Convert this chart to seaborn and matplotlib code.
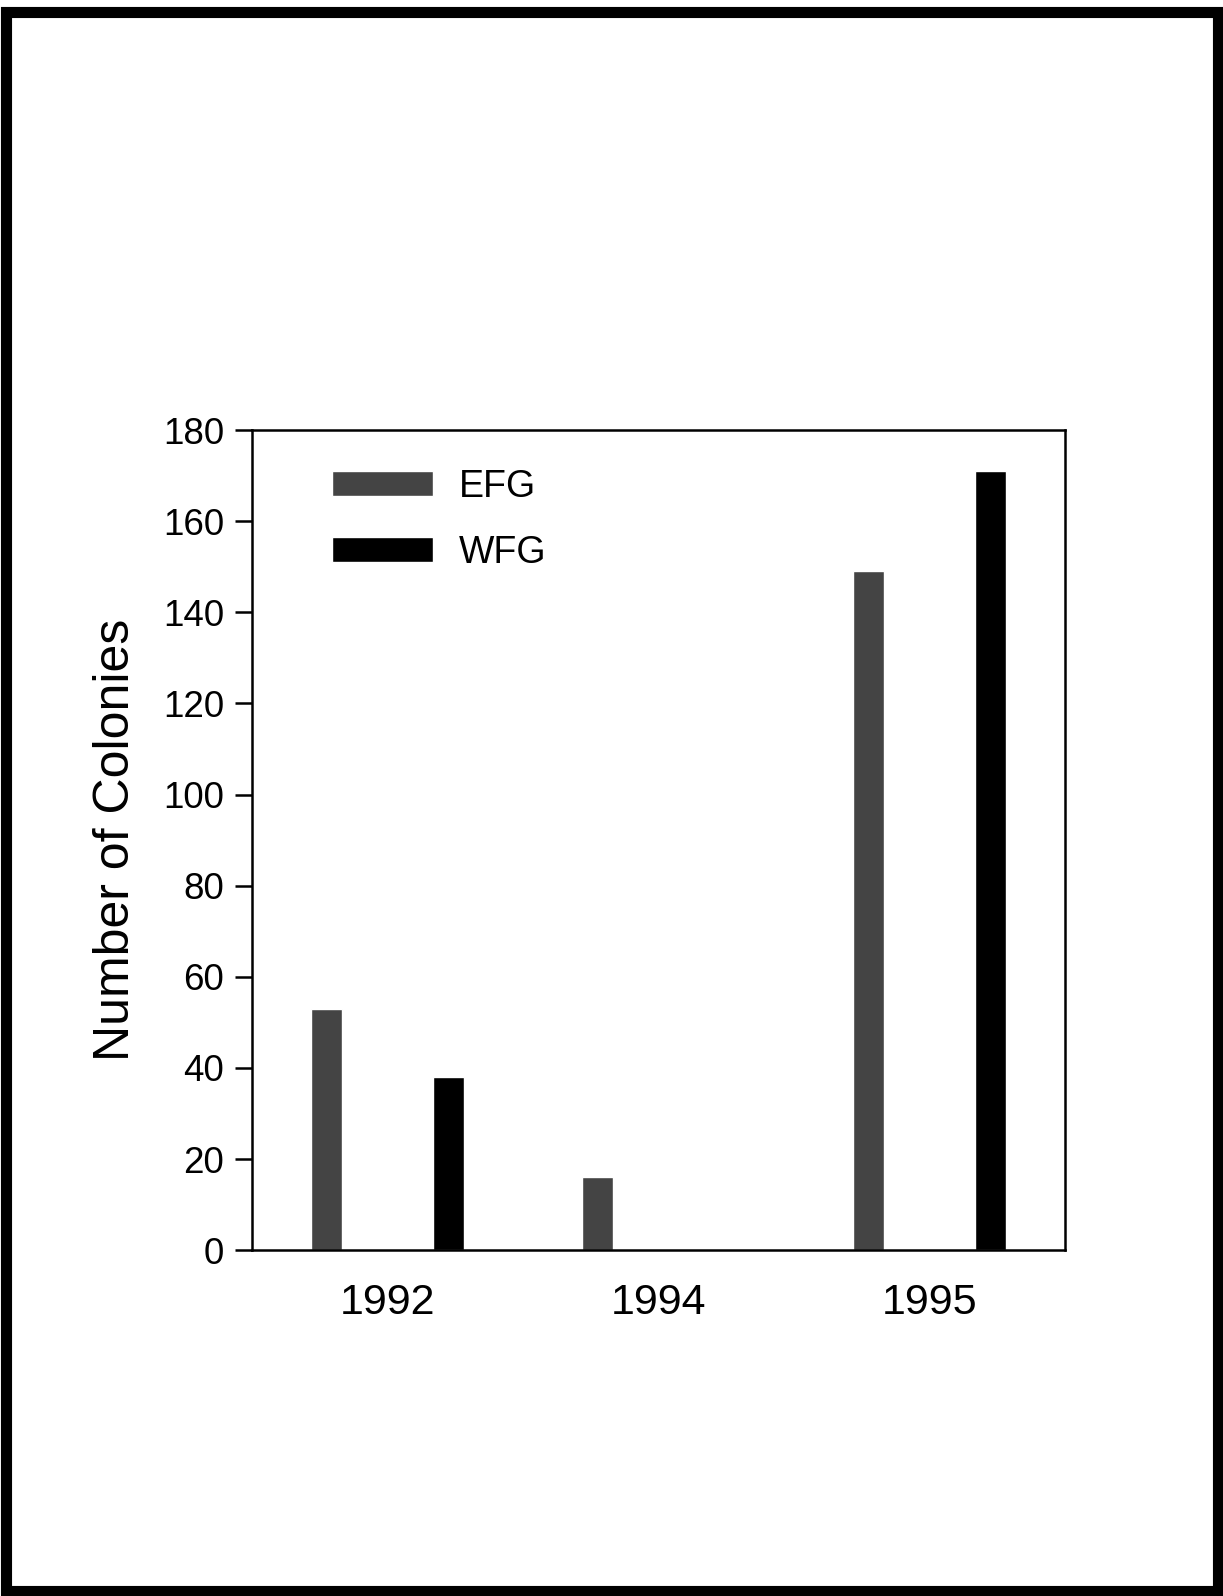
import pandas as pd
import numpy as np
import matplotlib.pyplot as plt
import matplotlib.patches as mpatches
import seaborn as sns

# values
years = ["1992", "1994", "1995"]
efg = [53, 16, 149]
wfg = [38, 0, 171]
groups = ["EFG", "WFG"]
yticks = [0, 20, 40, 60, 80, 100, 120, 140, 160, 180]

df = pd.DataFrame({
    "year": years * 2,
    "count": efg + wfg,
    "group": [groups[0]] * len(years) + [groups[1]] * len(years),
})

sns.set_style("ticks")
plt.rcParams['font.family'] = ['Liberation Sans', 'DejaVu Sans']
plt.rcParams['text.color'] = 'black'
plt.rcParams['axes.labelcolor'] = 'black'
plt.rcParams['xtick.color'] = 'black'
plt.rcParams['ytick.color'] = 'black'

fig = plt.figure(figsize=(12.23, 15.96), dpi=100)
ax = fig.add_axes([0.206, 0.2167, 0.665, 0.5138])

sns.barplot(data=df, x="year", y="count", hue="group", order=years,
            hue_order=groups, palette={"EFG": "#444444", "WFG": "#000000"},
            width=0.9, gap=0.75, saturation=1, legend=False, ax=ax)

ax.set_ylim(0, 180)
ax.set_xlim(-0.5, 2.5)
ax.set_yticks(yticks)
ax.set_xlabel("")
ax.set_ylabel("Number of Colonies", fontsize=36, labelpad=17)

for s in ax.spines.values():
    s.set_visible(True)
    s.set_linewidth(1.8)
    s.set_color("black")

ax.tick_params(axis="y", direction="out", length=12, width=1.8, labelsize=26.5, pad=8)
ax.tick_params(axis="x", length=0, labelsize=31, pad=24)

ax.legend(ax.containers, groups, loc="upper left", bbox_to_anchor=(0.098, 0.953),
          frameon=False, fontsize=27, borderaxespad=0, borderpad=0,
          handlelength=2.7, handleheight=0.68, handletextpad=0.7, labelspacing=0.8)

# thick frame round the whole page, as in the scan
fig.patches.append(mpatches.Rectangle((5.5 / 1223, 5.5 / 1596), 1 - 11 / 1223, 1 - 17 / 1596,
                                      fill=False, lw=8, ec="black", transform=fig.transFigure))

fig.savefig("out.png", dpi=100, facecolor="white")
